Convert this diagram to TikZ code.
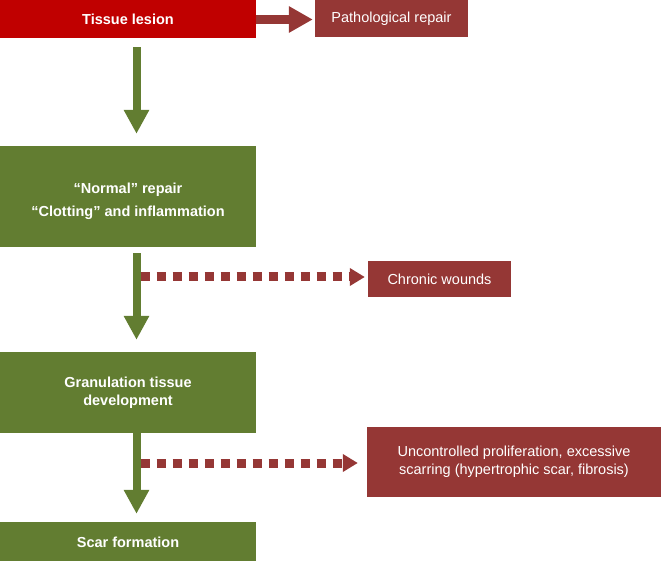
\documentclass[tikz,border=0pt]{standalone}
\usepackage{fontspec}
\setmainfont{Liberation Sans}
\usetikzlibrary{arrows.meta}
\definecolor{lesred}{HTML}{C00000}
\definecolor{patred}{HTML}{953735}
\definecolor{grn}{HTML}{627D31}
\begin{document}
\begin{tikzpicture}[x=1pt,y=-1pt,
  box/.style={draw=none, text=white, align=center, inner sep=0pt,
    font=\fontsize{14.5}{18}\selectfont},
  bbox/.style={box, font=\fontsize{14.5}{18}\selectfont\bfseries},
  garrow/.style={draw=grn, line width=8pt,
    -{Triangle[length=24pt,width=24pt]}},
  rarrow/.style={draw=patred, line width=9pt,
    -{Triangle[length=24pt,width=25pt]}},
  darrow/.style={draw=patred, line width=9pt, dash pattern=on 9pt off 7pt,
    -{Triangle[length=15pt,width=17pt]}}]
\useasboundingbox (0,0) rectangle (661,561);
\node[bbox, fill=lesred, minimum width=256pt, minimum height=38pt] (lesion) at (128,19) {Tissue lesion};
\node[box, fill=patred, minimum width=153pt, minimum height=37pt] (patho) at (391.5,18.5) {Pathological repair};
\node[bbox, fill=grn, minimum width=256pt, minimum height=101pt,
  label={[bbox, yshift=-4.5pt]center:{``Normal'' repair\\[5pt]``Clotting'' and inflammation}}] (normal) at (128,196.5) {};
\node[box, fill=patred, minimum width=143pt, minimum height=36pt] (chronic) at (439.5,279) {Chronic wounds};
\node[bbox, fill=grn, minimum width=256pt, minimum height=81pt] (gran) at (128,392.5) {Granulation tissue\\development};
\node[box, fill=patred, minimum width=294pt, minimum height=70pt] (unc) at (514,462) {Uncontrolled proliferation, excessive\\scarring (hypertrophic scar, fibrosis)};
\node[bbox, fill=grn, minimum width=256pt, minimum height=40pt] (scar) at (128,542) {Scar formation};
\draw[rarrow] ([yshift=-0.5pt]lesion.east) -- ([xshift=-2pt,yshift=-0.5pt]lesion.east -| patho.west);
\draw[garrow] ([xshift=8.5pt,yshift=-9pt]lesion.south) -- ([xshift=8.5pt,yshift=12pt]normal.north);
\draw[garrow] ([xshift=8.5pt,yshift=-6pt]normal.south) -- ([xshift=8.5pt,yshift=12pt]gran.north);
\draw[garrow] ([xshift=8.5pt]gran.south) -- ([xshift=8.5pt,yshift=8pt]scar.north);
\coordinate (d1) at (140.5,277);
\coordinate (d2) at (140.5,463);
\draw[darrow] (d1) -- ([xshift=-3pt]d1 -| chronic.west);
\draw[darrow] (d2) -- ([xshift=-9pt]d2 -| unc.west);
\end{tikzpicture}
\end{document}
